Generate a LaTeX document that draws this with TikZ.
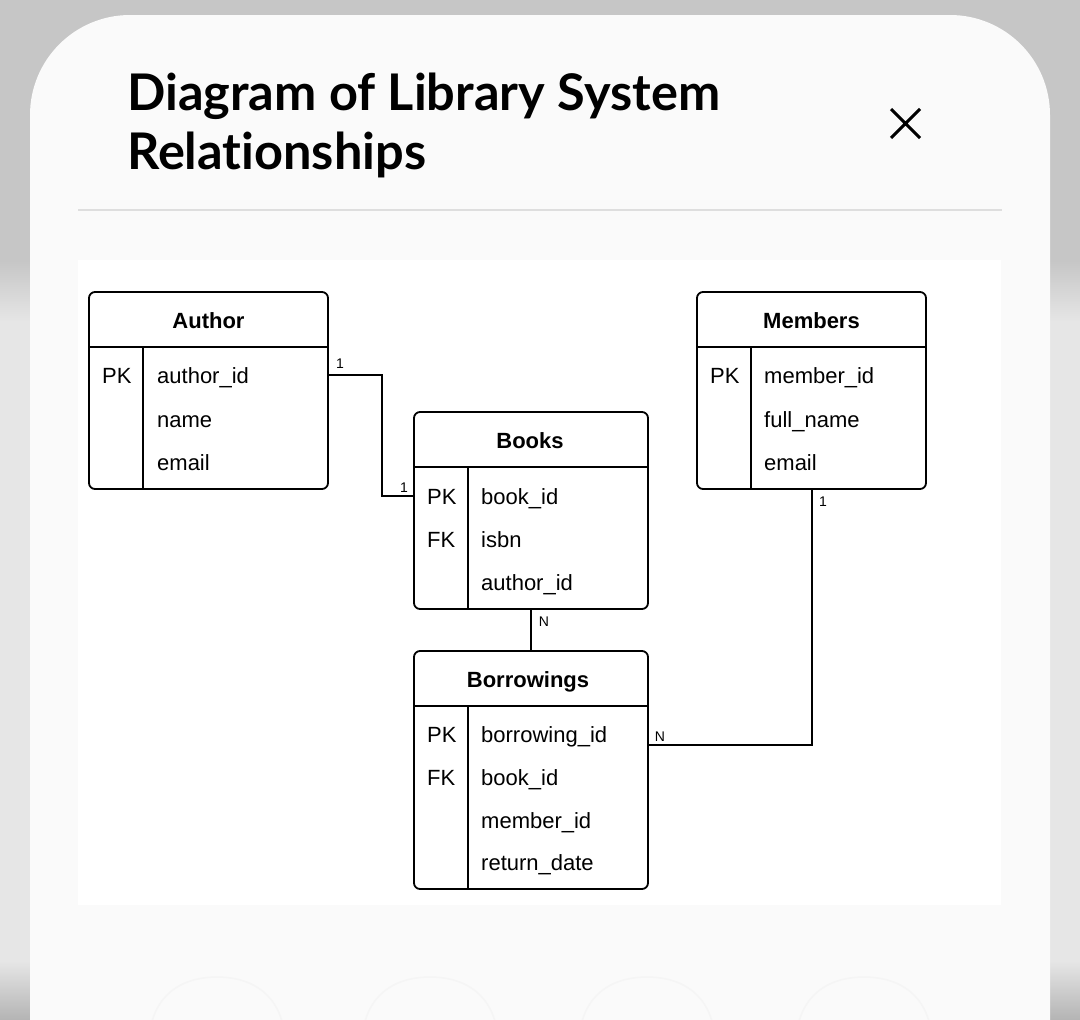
\documentclass[tikz,border=0pt]{standalone}
\usepackage{fontspec}
\setmainfont{Liberation Sans}
\newfontfamily\titlefont[Ligatures=NoCommon]{Lato}
\usetikzlibrary{fit}
\definecolor{bggray}{HTML}{C6C6C6}
\definecolor{bglight}{HTML}{E6E6E6}
\definecolor{bgdark}{HTML}{B4B4B4}
\definecolor{cardcol}{HTML}{FAFAFA}
\definecolor{rulecol}{HTML}{DEDEDE}
\definecolor{arccol}{HTML}{F5F5F5}
\begin{document}
\begin{tikzpicture}[x=1pt,y=-1pt,
  tbl/.style={draw=black, line width=1.8pt, rounded corners=6pt, inner sep=0pt, fill=white},
  sepline/.style={line width=1.5pt},
  conn/.style={line width=1.6pt},
  hdr/.style={font=\fontsize{22}{26}\selectfont\bfseries, anchor=base, inner sep=0pt},
  fld/.style={font=\fontsize{22}{26}\selectfont, anchor=base west, inner sep=0pt},
  mult/.style={font=\fontsize{14}{16}\selectfont, inner sep=0pt},
  ttl/.style={font=\titlefont\fontsize{50.5}{58}\selectfont\bfseries, anchor=base west, inner sep=0pt}
]
\useasboundingbox (0,0) rectangle (1080,1020);
\clip (0,0) rectangle (1080,1020);
% background
\fill[bggray] (0,0) rectangle (1080,262);
\shade[top color=bggray, bottom color=bglight] (0,261) rectangle (1080,322);
\fill[bglight] (0,321) rectangle (1080,962);
\shade[top color=bglight, bottom color=bgdark] (0,961) rectangle (1080,1020);
% card
\fill[cardcol, rounded corners=100pt] (30,1200) -- (30,15) -- (1050,15) -- (1050,1200) -- cycle;
% title
\node[ttl] (title1) at (127,110) {Diagram of Library System};
\node[ttl] (title2) at (127,169) {Relationships};
% close
\coordinate (x1) at (891,109);
\coordinate (x2) at (920,138);
\draw[line width=3pt] (x1) -- (x2) (x1 |- x2) -- (x2 |- x1);
% separator
\draw[rulecol, line width=2.5pt] (78,210) -- (1002,210);
% diagram area
\fill[white] (78,260) rectangle (1001,905);
% faint arcs
\foreach \cx in {217,430,647,864}{
  \draw[arccol, line width=1.5pt] (\cx-67,1030) .. controls (\cx-60,990) and (\cx-30,977) .. (\cx,977) .. controls (\cx+30,977) and (\cx+60,990) .. (\cx+67,1030);
}
% ---------- Author
\coordinate (a-nw) at (89,292); \coordinate (a-se) at (328,489);
\node[tbl, fit=(a-nw)(a-se)] (author) {};
\draw[sepline] (89,347) -- (328,347);
\draw[sepline] (143,347) -- (143,489);
\node[hdr] (author-h) at (208.5,328) {Author};
\node[fld] (author-k1) at (102,383) {PK};
\node[fld] (author-f1) at (157,383) {author\_id};
\node[fld] (author-f2) at (157,427) {name};
\node[fld] (author-f3) at (157,470) {email};
% ---------- Members
\coordinate (m-nw) at (697,292); \coordinate (m-se) at (926,489);
\node[tbl, fit=(m-nw)(m-se)] (members) {};
\draw[sepline] (697,347) -- (926,347);
\draw[sepline] (751,347) -- (751,489);
\node[hdr] (members-h) at (811.5,328) {Members};
\node[fld] (members-k1) at (710,383) {PK};
\node[fld] (members-f1) at (764,383) {member\_id};
\node[fld] (members-f2) at (764,427) {full\_name};
\node[fld] (members-f3) at (764,470) {email};
% ---------- Books
\coordinate (b-nw) at (414,412); \coordinate (b-se) at (648,609);
\node[tbl, fit=(b-nw)(b-se)] (books) {};
\draw[sepline] (414,467) -- (648,467);
\draw[sepline] (468,467) -- (468,609);
\node[hdr] (books-h) at (530,448) {Books};
\node[fld] (books-k1) at (427,504) {PK};
\node[fld] (books-k2) at (427,547) {FK};
\node[fld] (books-f1) at (481,504) {book\_id};
\node[fld] (books-f2) at (481,547) {isbn};
\node[fld] (books-f3) at (481,590) {author\_id};
% ---------- Borrowings
\coordinate (r-nw) at (414,651); \coordinate (r-se) at (648,889);
\node[tbl, fit=(r-nw)(r-se)] (borrow) {};
\draw[sepline] (414,706) -- (648,706);
\draw[sepline] (468,706) -- (468,889);
\node[hdr] (borrow-h) at (528,687) {Borrowings};
\node[fld] (borrow-k1) at (427,742) {PK};
\node[fld] (borrow-k2) at (427,785) {FK};
\node[fld] (borrow-f1) at (481,742) {borrowing\_id};
\node[fld] (borrow-f2) at (481,785) {book\_id};
\node[fld] (borrow-f3) at (481,828) {member\_id};
\node[fld] (borrow-f4) at (481,870) {return\_date};
% ---------- connectors
\draw[conn] (author.east |- 0,375) -- (382,375) -- (382,496) -- (books.west |- 0,496);
\node[mult] (l1) at (340,364) {1};
\node[mult] (l2) at (404,488) {1};
\draw[conn] (books.south -| 531,0) -- (borrow.north -| 531,0);
\node[mult] (l3) at (544,622) {N};
\draw[conn] (members.south -| 812,0) -- (812,745) -- (borrow.east |- 0,745);
\node[mult] (l4) at (823,502) {1};
\node[mult] (l5) at (660,737) {N};
\end{tikzpicture}
\end{document}
